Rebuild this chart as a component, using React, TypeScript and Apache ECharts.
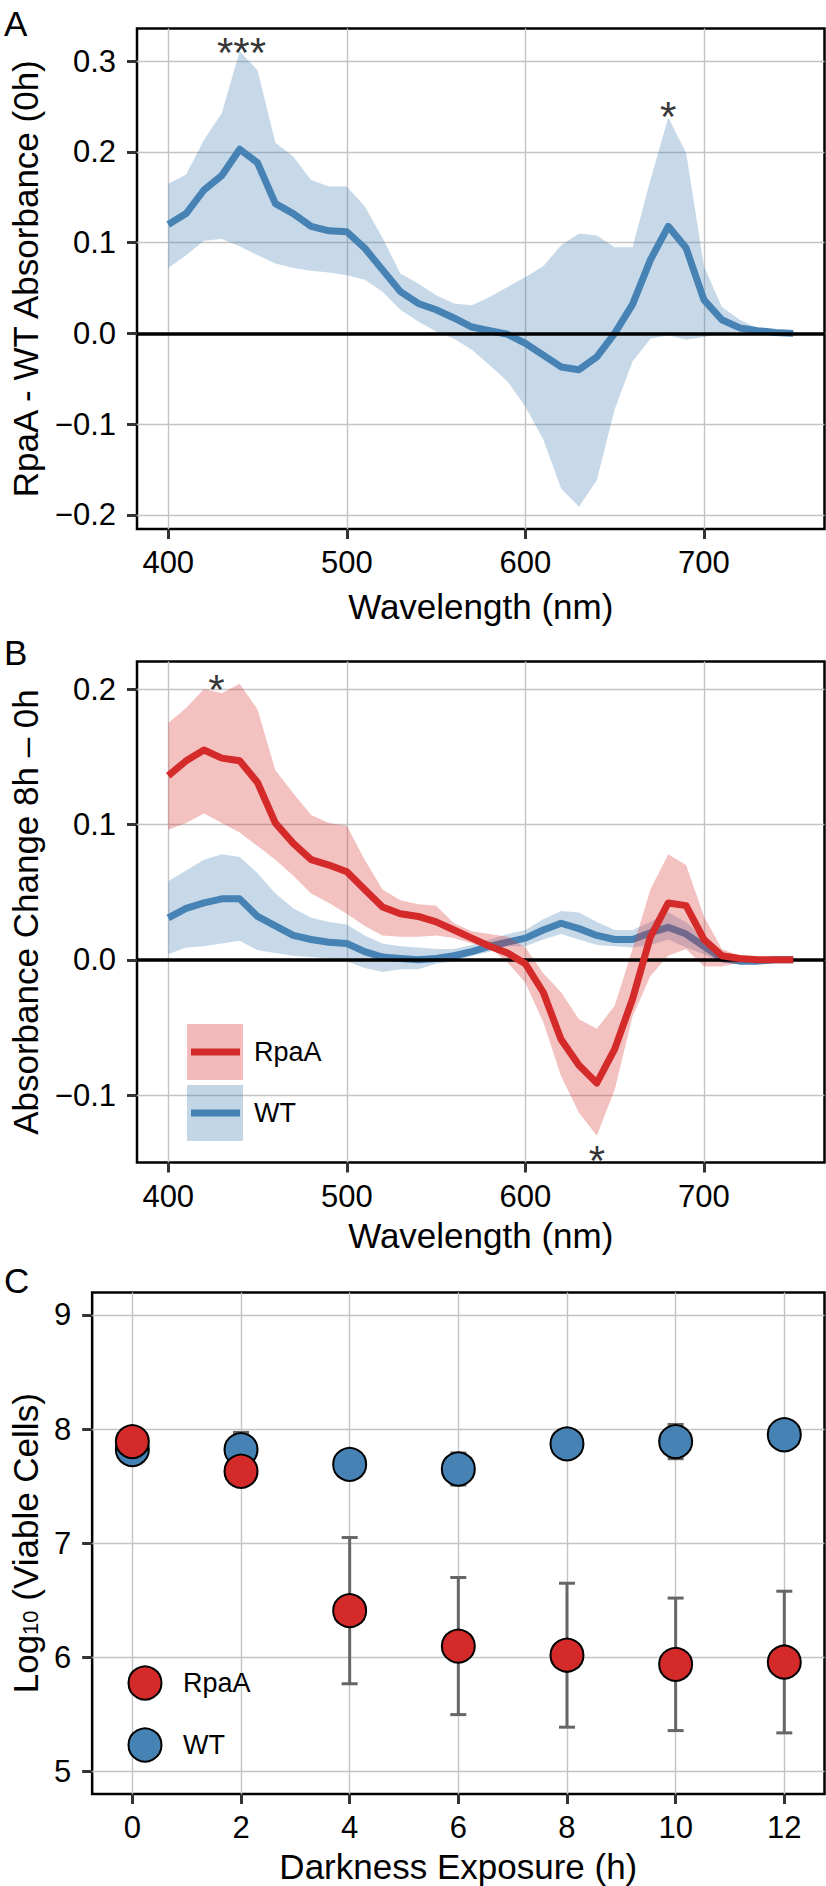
import React, { useEffect, useRef } from "react";
import * as echarts from "echarts";

// ---------- Data ----------
const wavelengths = [400, 410, 420, 430, 440, 450, 460, 470, 480, 490, 500, 510, 520, 530, 540, 550, 560, 570, 580, 590, 600, 610, 620, 630, 640, 650, 660, 670, 680, 690, 700, 710, 720, 730, 740, 750];

// Panel A: RpaA - WT absorbance (0h)
const diffMean = [0.120, 0.132, 0.158, 0.174, 0.203, 0.188, 0.143, 0.132, 0.118, 0.113, 0.112, 0.094, 0.070, 0.046, 0.033, 0.026, 0.017, 0.007, 0.003, -0.001, -0.011, -0.024, -0.037, -0.040, -0.026, 0.000, 0.032, 0.081, 0.118, 0.094, 0.037, 0.015, 0.006, 0.003, 0.001, 0.000];
const diffUpper = [0.165, 0.175, 0.213, 0.243, 0.311, 0.290, 0.210, 0.195, 0.169, 0.162, 0.162, 0.140, 0.105, 0.066, 0.055, 0.042, 0.033, 0.031, 0.040, 0.051, 0.062, 0.074, 0.097, 0.110, 0.108, 0.095, 0.095, 0.169, 0.238, 0.199, 0.074, 0.029, 0.015, 0.006, 0.003, 0.001];
const diffLower = [0.072, 0.086, 0.102, 0.104, 0.096, 0.086, 0.077, 0.072, 0.069, 0.067, 0.064, 0.059, 0.046, 0.026, 0.013, 0.002, -0.006, -0.018, -0.035, -0.053, -0.081, -0.117, -0.171, -0.191, -0.162, -0.084, -0.031, -0.006, -0.002, -0.007, -0.004, 0.000, 0.002, 0.002, 0.001, 0.000];

// Panel B: absorbance change 8h - 0h
const rpaaMean = [0.136, 0.147, 0.155, 0.149, 0.147, 0.131, 0.101, 0.086, 0.074, 0.070, 0.065, 0.052, 0.039, 0.034, 0.032, 0.028, 0.022, 0.016, 0.010, 0.005, -0.003, -0.024, -0.059, -0.078, -0.091, -0.066, -0.029, 0.017, 0.042, 0.040, 0.015, 0.003, 0.001, 0.000, 0.000, 0.000];
const rpaaUpper = [0.175, 0.186, 0.200, 0.197, 0.204, 0.185, 0.140, 0.123, 0.107, 0.101, 0.099, 0.074, 0.052, 0.044, 0.041, 0.040, 0.027, 0.021, 0.019, 0.017, 0.009, -0.010, -0.024, -0.044, -0.051, -0.034, 0.008, 0.052, 0.078, 0.070, 0.032, 0.008, 0.003, 0.001, 0.001, 0.001];
const rpaaLower = [0.096, 0.101, 0.108, 0.101, 0.094, 0.084, 0.074, 0.062, 0.049, 0.042, 0.034, 0.025, 0.018, 0.017, 0.017, 0.018, 0.016, 0.012, 0.009, -0.002, -0.017, -0.046, -0.086, -0.113, -0.130, -0.096, -0.042, -0.012, 0.003, 0.008, -0.005, -0.005, -0.002, -0.001, 0.000, 0.000];
const wtMean = [0.031, 0.038, 0.042, 0.045, 0.045, 0.032, 0.025, 0.018, 0.015, 0.013, 0.012, 0.006, 0.002, 0.001, 0.000, 0.001, 0.003, 0.006, 0.010, 0.013, 0.016, 0.022, 0.027, 0.023, 0.018, 0.015, 0.015, 0.020, 0.024, 0.019, 0.010, 0.001, -0.001, -0.001, 0.000, 0.000];
const wtUpper = [0.058, 0.066, 0.074, 0.078, 0.076, 0.064, 0.049, 0.038, 0.031, 0.028, 0.026, 0.018, 0.012, 0.010, 0.009, 0.008, 0.008, 0.011, 0.015, 0.019, 0.022, 0.030, 0.036, 0.035, 0.028, 0.022, 0.022, 0.028, 0.035, 0.028, 0.015, 0.004, 0.001, 0.001, 0.001, 0.001];
const wtLower = [0.004, 0.009, 0.010, 0.012, 0.014, 0.007, 0.005, 0.003, 0.002, 0.001, -0.001, -0.006, -0.009, -0.007, -0.007, -0.003, -0.001, 0.003, 0.006, 0.010, 0.010, 0.015, 0.019, 0.015, 0.011, 0.010, 0.009, 0.011, 0.015, 0.009, 0.004, -0.002, -0.003, -0.003, -0.002, -0.002];

// Significance annotations
const annotA = [{ x: 441, y: 0.31, text: "***" }, { x: 680, y: 0.239, text: "*" }];
const annotB = [{ x: 427, y: 0.2, text: "*" }, { x: 640, y: -0.1485, text: "*" }];

// Panel C: viability
const hours = [0, 2, 4, 6, 8, 10, 12];
const wtViable = [7.82, 7.82, 7.69, 7.65, 7.87, 7.89, 7.95];
const wtViableErr = [0.06, 0.15, 0.08, 0.14, 0.08, 0.15, 0.08];
const rpaaViable = [7.89, 7.63, 6.41, 6.10, 6.02, 5.94, 5.96];
const rpaaViableErr = [0.06, 0.08, 0.64, 0.60, 0.63, 0.58, 0.62];

// Tick values
const wlTicks = [400, 500, 600, 700];
const aTicks = [-0.2, -0.1, 0, 0.1, 0.2, 0.3];
const bTicks = [-0.1, 0, 0.1, 0.2];
const cxTicks = [0, 2, 4, 6, 8, 10, 12];
const cyTicks = [5, 6, 7, 8, 9];

// ---------- Styles ----------
const FONT = '"Liberation Sans", Arial, Helvetica, sans-serif';
const BLUE = "#4682b4";
const BLUE_FILL = "rgba(70,130,180,0.30)";
const RED = "#d42a2a";
const RED_FILL = "rgba(220,50,50,0.30)";
const GRID_COLOR = "#c4c4c4";
const TICK_FONT = 31;
const TITLE_FONT = 35;
const LEGEND_FONT = 27;

const fmt1 = (v: number) => {
  const r = Math.round(v * 10) / 10;
  if (Math.abs(r) < 1e-9) return "0.0";
  return r < 0 ? "\u2212" + Math.abs(r).toFixed(1) : r.toFixed(1);
};

function xAxisCfg(gridIndex: number, min: number, max: number, ticks: number[], name: string, nameGap: number) {
  return {
    type: "value",
    gridIndex,
    min,
    max,
    name,
    nameLocation: "middle",
    nameGap,
    nameTextStyle: { fontSize: TITLE_FONT, color: "#000", fontFamily: FONT },
    axisLine: { show: false, onZero: false },
    axisTick: { show: true, length: 10, customValues: ticks, lineStyle: { color: "#333", width: 3 } },
    axisLabel: { customValues: ticks, fontSize: TICK_FONT, color: "#000", fontFamily: FONT, margin: 18 },
    splitLine: { show: true, lineStyle: { color: GRID_COLOR, width: 1.4 } },
  };
}

function yAxisCfg(gridIndex: number, min: number, max: number, ticks: number[], name: string, nameGap: number, formatter: (v: number) => string, extra: any = {}) {
  return {
    type: "value",
    gridIndex,
    min,
    max,
    name,
    nameLocation: "middle",
    nameGap,
    nameRotate: 90,
    nameTextStyle: { fontSize: TITLE_FONT, color: "#000", fontFamily: FONT, ...extra },
    axisLine: { show: false, onZero: false },
    axisTick: { show: true, length: 10, customValues: ticks, lineStyle: { color: "#333", width: 3 } },
    axisLabel: { customValues: ticks, fontSize: TICK_FONT, color: "#000", fontFamily: FONT, margin: 21, formatter },
    splitLine: { show: true, lineStyle: { color: GRID_COLOR, width: 1.4 } },
  };
}

function ribbon(axis: number, upper: number[], lower: number[], fill: string, z: number) {
  return {
    type: "custom",
    xAxisIndex: axis,
    yAxisIndex: axis,
    silent: true,
    clip: true,
    z,
    data: [[wavelengths[0], lower[0]]],
    renderItem: (params: any, api: any) => {
      if (params.dataIndex !== 0) return null;
      const top = wavelengths.map((w, i) => api.coord([w, upper[i]]));
      const bot = wavelengths.map((w, i) => api.coord([w, lower[i]])).reverse();
      return { type: "polygon", shape: { points: top.concat(bot) }, style: { fill } };
    },
  };
}

function meanLine(axis: number, values: number[], color: string, z: number) {
  return {
    type: "line",
    xAxisIndex: axis,
    yAxisIndex: axis,
    silent: true,
    z,
    symbol: "none",
    showSymbol: false,
    data: wavelengths.map((w, i) => [w, values[i]]),
    lineStyle: { color, width: 7, join: "round", cap: "butt" },
  };
}

function zeroLine(axis: number, z: number) {
  return {
    type: "line",
    xAxisIndex: axis,
    yAxisIndex: axis,
    silent: true,
    z,
    data: [],
    markLine: {
      silent: true,
      symbol: ["none", "none"],
      label: { show: false },
      lineStyle: { color: "#000", width: 3.5, type: "solid" },
      data: [{ yAxis: 0 }],
    },
  };
}

function annotations(axis: number, items: { x: number; y: number; text: string }[]) {
  return {
    type: "scatter",
    xAxisIndex: axis,
    yAxisIndex: axis,
    silent: true,
    z: 6,
    symbolSize: 1,
    itemStyle: { color: "rgba(0,0,0,0)" },
    data: items.map((d) => [d.x, d.y]),
    label: {
      show: true,
      position: "inside",
      fontSize: 42,
      color: "#000",
      fontFamily: FONT,
      formatter: (p: any) => items[p.dataIndex].text,
    },
  };
}

function errorBars(values: number[], errs: number[], z: number) {
  return {
    type: "custom",
    xAxisIndex: 2,
    yAxisIndex: 2,
    silent: true,
    z,
    encode: { x: 0, y: [1, 2] },
    data: hours.map((h, i) => [h, values[i] - errs[i], values[i] + errs[i]]),
    renderItem: (params: any, api: any) => {
      const x = api.value(0);
      const hiP = api.coord([x, api.value(2)]);
      const loP = api.coord([x, api.value(1)]);
      const hw = 8;
      const st = { stroke: "#666", lineWidth: 3 };
      return {
        type: "group",
        children: [
          { type: "line", shape: { x1: hiP[0], y1: hiP[1], x2: loP[0], y2: loP[1] }, style: st },
          { type: "line", shape: { x1: hiP[0] - hw, y1: hiP[1], x2: hiP[0] + hw, y2: hiP[1] }, style: st },
          { type: "line", shape: { x1: loP[0] - hw, y1: loP[1], x2: loP[0] + hw, y2: loP[1] }, style: st },
        ],
      };
    },
  };
}

function points(values: number[], color: string, z: number) {
  return {
    type: "scatter",
    xAxisIndex: 2,
    yAxisIndex: 2,
    silent: true,
    z,
    symbol: "circle",
    symbolSize: 33,
    data: hours.map((h, i) => [h, values[i]]),
    itemStyle: { color, borderColor: "#000", borderWidth: 2, opacity: 1 },
  };
}

export default function App() {
  const ref = useRef<HTMLDivElement>(null);

  useEffect(() => {
    if (!ref.current) return;
    const chart = echarts.init(ref.current, null, { renderer: "svg" });

    const gridBase = { show: true, borderColor: "#000", borderWidth: 2.5, backgroundColor: "#fff", containLabel: false };

    const option: any = {
      animation: false,
      backgroundColor: "#fff",
      grid: [
        { ...gridBase, left: 133.5, top: 28.5, width: 691, height: 500.5 },
        { ...gridBase, left: 133.5, top: 661.5, width: 691, height: 501 },
        { ...gridBase, left: 84.5, top: 1292.5, width: 740, height: 501.5 },
      ],
      xAxis: [
        xAxisCfg(0, 382.5, 767.5, wlTicks, "Wavelength (nm)", 60),
        xAxisCfg(1, 382.5, 767.5, wlTicks, "Wavelength (nm)", 55),
        xAxisCfg(2, -0.74, 12.74, cxTicks, "Darkness Exposure (h)", 55),
      ],
      yAxis: [
        yAxisCfg(0, -0.2156, 0.336, aTicks, "RpaA - WT Absorbance (0h)", 94, fmt1),
        yAxisCfg(1, -0.1498, 0.2204, bTicks, "Absorbance Change 8h \u2013 0h", 94, fmt1),
        yAxisCfg(2, 4.805, 9.195, cyTicks, "{a|Log}{s|10}{a| (Viable Cells)}", 46, (v: number) => String(Math.round(v)), {
          rich: {
            a: { fontSize: TITLE_FONT, color: "#000", fontFamily: FONT },
            s: { fontSize: 22, color: "#000", fontFamily: FONT, padding: [10, 0, 0, 0] },
          },
        }),
      ],
      series: [
        // Panel A
        ribbon(0, diffUpper, diffLower, BLUE_FILL, 1),
        zeroLine(0, 2),
        meanLine(0, diffMean, BLUE, 3),
        annotations(0, annotA),
        // Panel B
        ribbon(1, wtUpper, wtLower, BLUE_FILL, 1),
        zeroLine(1, 2),
        meanLine(1, wtMean, BLUE, 3),
        ribbon(1, rpaaUpper, rpaaLower, RED_FILL, 4),
        meanLine(1, rpaaMean, RED, 5),
        annotations(1, annotB),
        // Panel C
        errorBars(wtViable, wtViableErr, 2),
        points(wtViable, BLUE, 3),
        errorBars(rpaaViable, rpaaViableErr, 4),
        points(rpaaViable, RED, 5),
      ],
      graphic: [
        { type: "text", left: 4, top: 6, style: { text: "A", fontSize: 35, fill: "#000", fontFamily: FONT } },
        { type: "text", left: 4, top: 635, style: { text: "B", fontSize: 35, fill: "#000", fontFamily: FONT } },
        { type: "text", left: 4, top: 1263, style: { text: "C", fontSize: 35, fill: "#000", fontFamily: FONT } },
        // Legend B
        { type: "rect", shape: { x: 187, y: 1024, width: 56, height: 56 }, style: { fill: "rgba(220,50,50,0.33)" }, z: 10 },
        { type: "line", shape: { x1: 191, y1: 1052, x2: 240, y2: 1052 }, style: { stroke: RED, lineWidth: 7 }, z: 11 },
        { type: "rect", shape: { x: 187, y: 1085, width: 56, height: 56 }, style: { fill: "rgba(70,130,180,0.33)" }, z: 10 },
        { type: "line", shape: { x1: 191, y1: 1113, x2: 240, y2: 1113 }, style: { stroke: BLUE, lineWidth: 7 }, z: 11 },
        { type: "text", x: 254, y: 1052, style: { text: "RpaA", fontSize: LEGEND_FONT, fill: "#000", fontFamily: FONT, verticalAlign: "middle" }, z: 11 },
        { type: "text", x: 254, y: 1113, style: { text: "WT", fontSize: LEGEND_FONT, fill: "#000", fontFamily: FONT, verticalAlign: "middle" }, z: 11 },
        // Legend C
        { type: "circle", shape: { cx: 145, cy: 1683, r: 16.5 }, style: { fill: RED, stroke: "#000", lineWidth: 2 }, z: 11 },
        { type: "circle", shape: { cx: 145, cy: 1745, r: 16.5 }, style: { fill: BLUE, stroke: "#000", lineWidth: 2 }, z: 11 },
        { type: "text", x: 183, y: 1683, style: { text: "RpaA", fontSize: LEGEND_FONT, fill: "#000", fontFamily: FONT, verticalAlign: "middle" }, z: 11 },
        { type: "text", x: 183, y: 1745, style: { text: "WT", fontSize: LEGEND_FONT, fill: "#000", fontFamily: FONT, verticalAlign: "middle" }, z: 11 },
      ],
    };

    chart.setOption(option);
    return () => chart.dispose();
  }, []);

  return (
    <div
      ref={ref}
      style={{ position: "absolute", left: 0, top: 0, width: 826, height: 1886, background: "#fff" }}
    />
  );
}
